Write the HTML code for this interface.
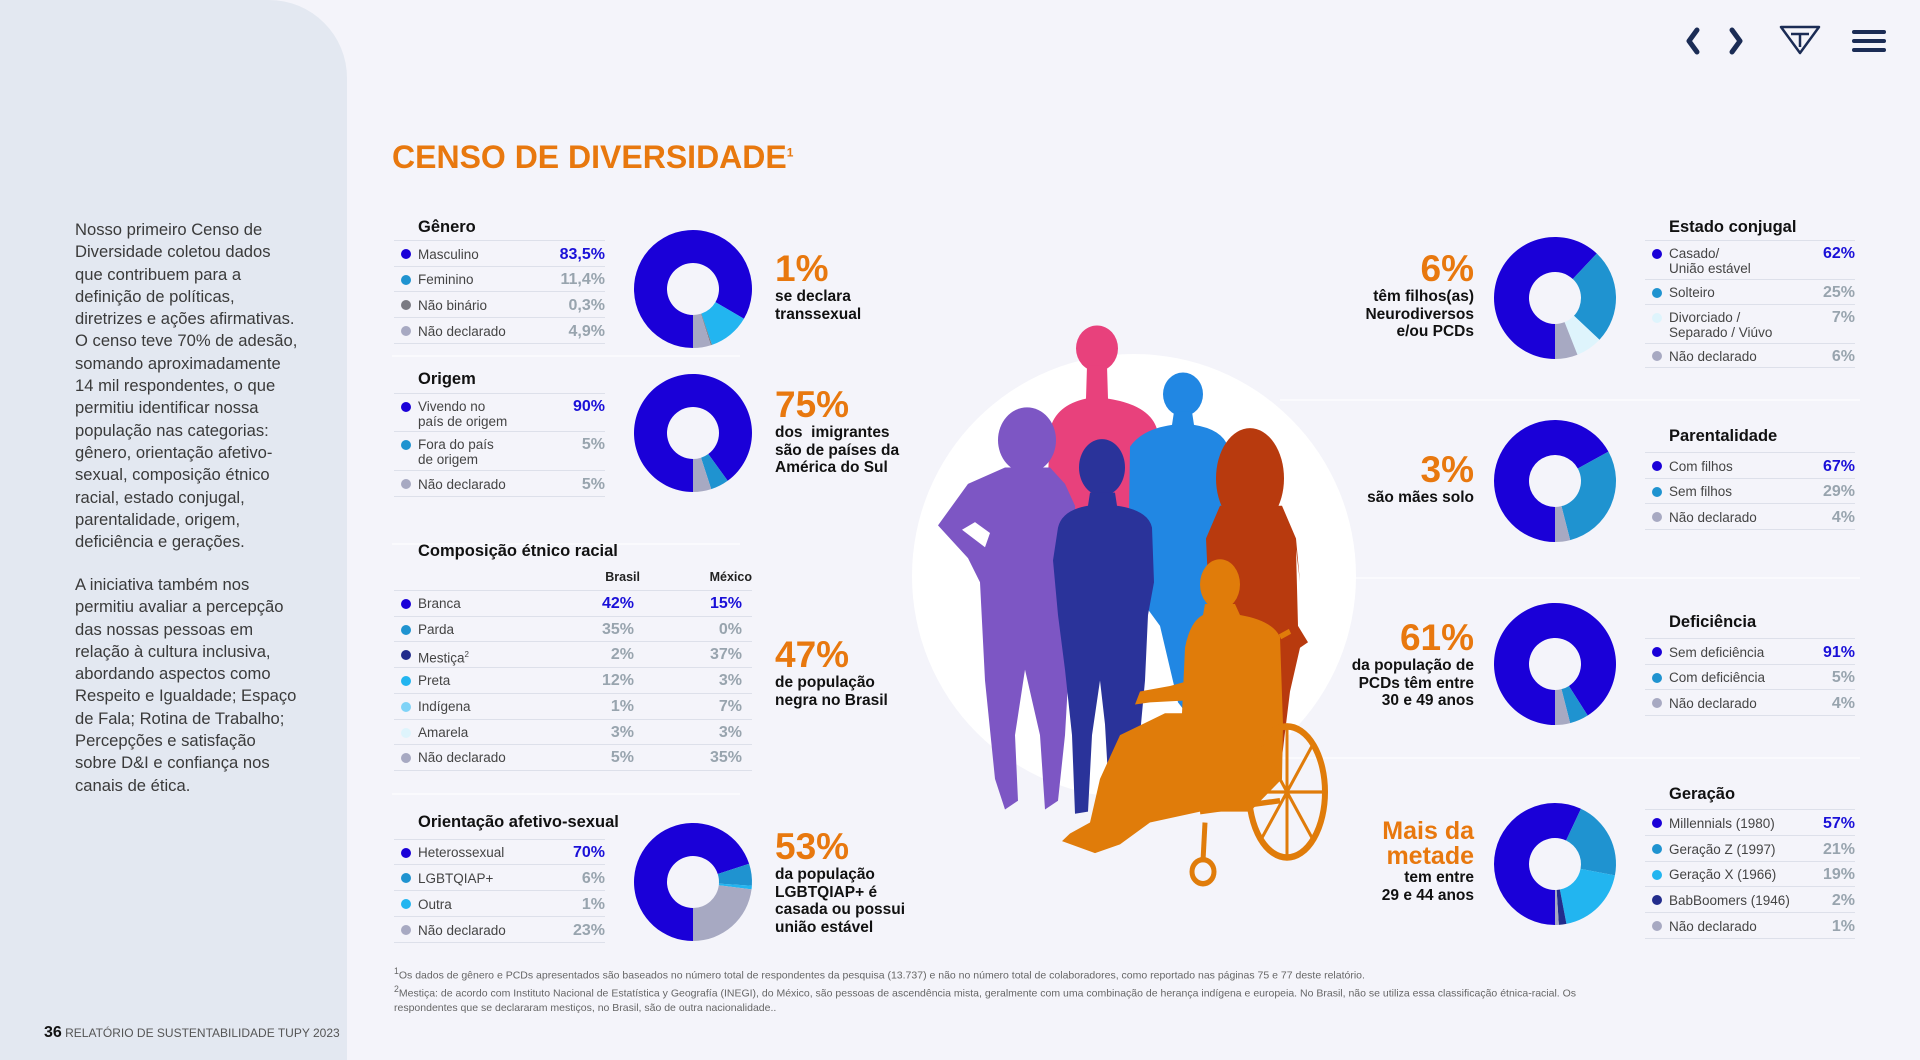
<!DOCTYPE html>
<html><head><meta charset="utf-8">
<style>
*{margin:0;padding:0;box-sizing:border-box}
body{width:1920px;height:1060px;background:#f4f4fa;font-family:"Liberation Sans",sans-serif;position:relative;overflow:hidden;color:#1a1a1a}
.abs{position:absolute}
.side{left:0;top:0;width:347px;height:1060px;background:#e3e8f1;border-top-right-radius:78px}
.para{left:75px;width:270px;font-size:16.6px;line-height:22.3px;color:#3a3a3a;white-space:nowrap}
.ttl{font-weight:bold;font-size:16.5px;color:#111}
.row{position:absolute;border-top:1px solid #dde0ea;display:flex;align-items:center;font-size:13.5px;color:#444}
.row .dot{position:absolute;left:7px;width:10px;height:10px;border-radius:50%}
.row .lab{position:absolute;left:24px;line-height:15px}
.row .val{position:absolute;right:0;font-weight:bold;font-size:16px;color:#98a4ae}
.row .val.first{color:#1a10d8}
.stat{font-weight:bold;color:#111;font-size:15.5px;line-height:17.5px}
.stat b{display:block;color:#e8780e;font-size:37px;line-height:38px}
.r{text-align:right}
.foot{left:394px;font-size:10.5px;color:#666;line-height:13.8px;width:1420px}
</style></head><body>
<div class="abs side"></div>
<div class="abs para" style="top:219px">Nosso primeiro Censo de<br>Diversidade coletou dados<br>que contribuem para a<br>definição de políticas,<br>diretrizes e ações afirmativas.<br>O censo teve 70% de adesão,<br>somando aproximadamente<br>14 mil respondentes, o que<br>permitiu identificar nossa<br>população nas categorias:<br>gênero, orientação afetivo-<br>sexual, composição étnico<br>racial, estado conjugal,<br>parentalidade, origem,<br>deficiência e gerações.</div>
<div class="abs para" style="top:574px">A iniciativa também nos<br>permitiu avaliar a percepção<br>das nossas pessoas em<br>relação à cultura inclusiva,<br>abordando aspectos como<br>Respeito e Igualdade; Espaço<br>de Fala; Rotina de Trabalho;<br>Percepções e satisfação<br>sobre D&amp;I e confiança nos<br>canais de ética.</div>
<div class="abs" style="left:44px;top:1024px;font-size:12px;color:#555"><b style="font-size:16px;color:#111">36</b> RELATÓRIO DE SUSTENTABILIDADE TUPY 2023</div>

<div class="abs" style="left:392px;top:139px;font-size:32px;font-weight:bold;color:#e8780e">CENSO DE DIVERSIDADE<sup style="font-size:12px">1</sup></div>

<svg class="abs" style="left:1670px;top:18px" width="250" height="46">
<polyline points="27,12 19,23 27,34" fill="none" stroke="#1b2c55" stroke-width="5" stroke-linecap="round" stroke-linejoin="round"/>
<polyline points="62,12 70,23 62,34" fill="none" stroke="#1b2c55" stroke-width="5" stroke-linecap="round" stroke-linejoin="round"/>
<g><polygon points="111,9 149,9 130,35" fill="none" stroke="#1b2c55" stroke-width="2.5" stroke-linejoin="round"/><path d="M121,16 H139 M130,16 V29" stroke="#1b2c55" stroke-width="2.5"/></g>
<g stroke="#1b2c55" stroke-width="4" stroke-linecap="round"><line x1="184" y1="14" x2="214" y2="14"/><line x1="184" y1="23" x2="214" y2="23"/><line x1="184" y1="32" x2="214" y2="32"/></g>
</svg>

<svg class="abs" style="left:0;top:0" width="1920" height="1060">
<g stroke="#ffffff" stroke-width="2" opacity="0.6"><line x1="392" y1="356" x2="740" y2="356"/><line x1="392" y1="544" x2="740" y2="544"/><line x1="392" y1="794" x2="740" y2="794"/><line x1="1280" y1="400" x2="1860" y2="400"/><line x1="1280" y1="578" x2="1860" y2="578"/><line x1="1280" y1="758" x2="1860" y2="758"/></g>
</svg>

<svg class="abs" style="left:0;top:0" width="1920" height="1060">
<circle cx="1134" cy="576" r="222" fill="#ffffff"/>
<g transform="translate(0,320) scale(1,1.0925) translate(0,-320)">
<g fill="#e8417c"><circle cx="1097" cy="346" r="21"/><path d="M1087,362 L1107,362 L1108,392 Q1150,398 1157,420 L1162,530 L1045,530 L1050,420 Q1056,398 1086,392 Z"/></g>
<g fill="#2187e3"><circle cx="1183" cy="388" r="20"/><path d="M1174,404 L1192,404 L1194,416 Q1222,420 1228,436 L1232,560 L1225,575 L1215,670 L1195,690 L1178,670 L1160,600 L1128,560 L1130,436 Q1142,420 1172,416 Z"/></g>
<g fill="#7d56c4"><ellipse cx="1027" cy="430" rx="29" ry="30"/><path d="M1005,455 L1050,455 L1065,470 L1075,490 L1080,560 L1070,620 L1065,700 L1058,760 L1045,768 L1040,700 L1025,640 L1015,700 L1018,760 L1005,768 L995,740 L985,650 L980,560 L968,538 L950,520 L938,508 L968,470 Z M975,505 L962,512 L985,528 L990,515 Z" fill-rule="evenodd"/></g>
<g fill="#2a339a"><ellipse cx="1102" cy="455" rx="23" ry="26"/><path d="M1090,478 L1115,478 L1117,490 Q1148,494 1152,510 L1154,560 L1148,590 L1145,650 L1140,700 L1135,760 L1125,772 L1110,770 L1105,690 L1100,650 L1092,700 L1088,770 L1075,772 L1072,700 L1065,640 L1058,590 L1053,540 L1058,510 Q1062,494 1088,490 Z"/></g>
<g fill="#b83a0e"><ellipse cx="1250" cy="465" rx="34" ry="46"/><path d="M1220,490 L1282,490 L1296,520 L1300,560 L1296,530 L1298,600 L1308,615 L1300,620 L1290,660 L1282,720 L1262,720 L1255,620 L1225,620 L1210,600 L1206,520 Z"/></g>
<g fill="#e07c0a"><ellipse cx="1220" cy="562" rx="20" ry="23"/><path d="M1205,580 L1235,580 L1240,590 Q1272,595 1280,610 L1283,690 L1282,740 L1250,770 L1200,770 L1150,780 L1120,800 L1095,808 L1062,797 L1070,790 L1090,780 L1100,740 L1120,700 L1165,680 L1182,680 L1185,620 Q1190,596 1203,590 Z"/>
<path d="M1190,650 L1170,655 L1140,660 L1135,672 L1150,670 L1190,668 Z"/>
<ellipse cx="1287" cy="752" rx="38" ry="60" fill="none" stroke="#e07c0a" stroke-width="6"/>
<g stroke="#e07c0a" stroke-width="3"><line x1="1287" y1="694" x2="1287" y2="810"/><line x1="1252" y1="752" x2="1322" y2="752"/><line x1="1262" y1="710" x2="1312" y2="794"/><line x1="1312" y1="710" x2="1262" y2="794"/><line x1="1200" y1="770" x2="1280" y2="760" stroke-width="5"/><line x1="1205" y1="780" x2="1203" y2="815" stroke-width="5"/><line x1="1280" y1="610" x2="1290" y2="605" stroke-width="5"/></g>
<circle cx="1203" cy="825" r="11" fill="none" stroke="#e07c0a" stroke-width="5"/></g>
</g>
</svg>

<div class="abs stat" style="left:775px;top:250px"><b>1%</b>se declara<br>transsexual</div>
<div class="abs stat" style="left:775px;top:386px"><b>75%</b>dos&nbsp; imigrantes<br>são de países da<br>América do Sul</div>
<div class="abs stat" style="left:775px;top:636px"><b>47%</b>de população<br>negra no Brasil</div>
<div class="abs stat" style="left:775px;top:828px"><b>53%</b>da população<br>LGBTQIAP+ é<br>casada ou possui<br>união estável</div>
<div class="abs stat r" style="right:446px;top:250px"><b>6%</b>têm filhos(as)<br>Neurodiversos<br>e/ou PCDs</div>
<div class="abs stat r" style="right:446px;top:451px"><b>3%</b>são mães solo</div>
<div class="abs stat r" style="right:446px;top:619px"><b>61%</b>da população de<br>PCDs têm entre<br>30 e 49 anos</div>
<div class="abs stat r" style="right:446px;top:819px"><b style="font-size:25px;line-height:25px;font-weight:bold">Mais da<br>metade</b>tem entre<br>29 e 44 anos</div>

<div class="abs foot" style="top:965px"><sup>1</sup>Os dados de gênero e PCDs apresentados são baseados no número total de respondentes da pesquisa (13.737) e não no número total de colaboradores, como reportado nas páginas 75 e 77 deste relatório.<br><sup>2</sup>Mestiça: de acordo com Instituto Nacional de Estatística y Geografía (INEGI), do México, são pessoas de ascendência mista, geralmente com uma combinação de herança indígena e europeia. No Brasil, não se utiliza essa classificação étnica-racial. Os<br>respondentes que se declararam mestiços, no Brasil, são de outra nacionalidade..</div>

<svg id="donuts" class="abs" style="left:0;top:0" width="1920" height="1060"></svg>
<div id="tables"></div>

<script>
const BLUE='#1a00d8',TEAL='#1f93d0',CYAN='#22b5f0',GRAY='#a7a9c2',DGRAY='#7a7a82',NAVY='#222c8c',LCYAN='#7fd3f7',PALE='#def4fc';

const generoLabels=['Masculino','Feminino','Não binário','Não declarado'];
const generoValues=[83.5,11.4,0.3,4.9];
const generoText=['83,5%','11,4%','0,3%','4,9%'];

const origemLabels=['Vivendo no<br>país de origem','Fora do país<br>de origem','Não declarado'];
const origemValues=[90,5,5];
const origemText=['90%','5%','5%'];

const etnicoLabels=['Branca','Parda','Mestiça<sup style="font-size:8px">2</sup>','Preta','Indígena','Amarela','Não declarado'];
const etnicoBrasil=[42,35,2,12,1,3,5];
const etnicoMexico=[15,0,37,3,7,3,35];

const orientLabels=['Heterossexual','LGBTQIAP+','Outra','Não declarado'];
const orientValues=[70,6,1,23];

const estadoLabels=['Casado/<br>União estável','Solteiro','Divorciado /<br>Separado / Viúvo','Não declarado'];
const estadoValues=[62,25,7,6];

const parentLabels=['Com filhos','Sem filhos','Não declarado'];
const parentValues=[67,29,4];

const deficLabels=['Sem deficiência','Com deficiência','Não declarado'];
const deficValues=[91,5,4];

const geracaoLabels=['Millennials (1980)','Geração Z (1997)','Geração X (1966)','BabBoomers (1946)','Não declarado'];
const geracaoValues=[57,21,19,2,1];

const svg=document.getElementById('donuts');
const NS='http://www.w3.org/2000/svg';
function pt(cx,cy,r,a){return [cx+r*Math.sin(a),cy-r*Math.cos(a)];}
function donut(name,cx,cy,R,r0,values,colors){
  const total=values.reduce((a,b)=>a+b,0);
  let a=Math.PI;
  values.forEach((v,i)=>{
    const sweep=v/total*2*Math.PI;
    const a2=a+sweep;
    const large=sweep>Math.PI?1:0;
    const p1=pt(cx,cy,R,a),p2=pt(cx,cy,R,a2),p3=pt(cx,cy,r0,a2),p4=pt(cx,cy,r0,a);
    const p=document.createElementNS(NS,'path');
    p.setAttribute('d',`M${p1} A${R},${R} 0 ${large} 1 ${p2} L${p3} A${r0},${r0} 0 ${large} 0 ${p4} Z`);
    p.setAttribute('fill',colors[i]);
    
    
    svg.appendChild(p);
    a=a2;
  });
}
donut('genero-donut',693,289,59,26,generoValues,[BLUE,CYAN,DGRAY,GRAY]);
donut('origem-donut',693,433,59,26,origemValues,[BLUE,TEAL,GRAY]);
donut('orientacao-donut',693,882,59,26,orientValues,[BLUE,TEAL,CYAN,GRAY]);
donut('estado-donut',1555,298,61,26,estadoValues,[BLUE,TEAL,PALE,GRAY]);
donut('parentalidade-donut',1555,481,61,26,parentValues,[BLUE,TEAL,GRAY]);
donut('deficiencia-donut',1555,664,61,26,deficValues,[BLUE,TEAL,GRAY]);
donut('geracao-donut',1555,864,61,26,geracaoValues,[BLUE,TEAL,CYAN,NAVY,GRAY]);

const host=document.getElementById('tables');
function mk(html,style){const d=document.createElement('div');d.className='abs';d.style.cssText=style;d.innerHTML=html;host.appendChild(d);return d;}
function pct(v){return (Math.round(v*10)/10).toString().replace('.',',')+'%';}
function table(name,x,w,titleTop,lineY,title,labels,texts,colors,heights){
  const t=mk(title,`left:${x+24}px;top:${titleTop}px;`);
  t.className='abs ttl';
  
  
  let y=lineY;
  labels.forEach((l,i)=>{
    const h=heights[i];
    const d=document.createElement('div');
    d.className='row';
    d.style.cssText=`left:${x}px;top:${y}px;width:${w}px;height:${h}px;`;
    const multi=l.indexOf('<br>')>=0;
    const top=multi?5:(h-15)/2;
    d.innerHTML=`<span class="dot" style="background:${colors[i]};top:${multi?8:(h-10)/2}px"></span><span class="lab" style="top:${top}px">${l}</span><span class="val${i==0?' first':''}" style="top:${multi?4:(h-19)/2+1}px">${texts[i]}</span>`;
    
    
    host.appendChild(d);
    y+=h;
  });
  const b=document.createElement('div');
  b.className='abs';
  b.style.cssText=`left:${x}px;top:${y}px;width:${w}px;border-top:1px solid #dde0ea`;
  
  
  host.appendChild(b);
}
table('genero-table',394,211,218,240,'Gênero',generoLabels,generoText,[BLUE,TEAL,DGRAY,GRAY],[26,25,26,26]);
table('origem-table',394,211,370,393,'Origem',origemLabels,origemText,[BLUE,TEAL,GRAY],[38,39,26]);
table('orientacao-table',394,211,813,839,'Orientação afetivo-sexual',orientLabels,orientValues.map(pct),[BLUE,TEAL,CYAN,GRAY],[25,26,26,26]);
table('estado-table',1645,210,218,240,'Estado conjugal',estadoLabels,estadoValues.map(pct),[BLUE,TEAL,PALE,GRAY],[39,25,39,24]);
table('parentalidade-table',1645,210,427,452,'Parentalidade',parentLabels,parentValues.map(pct),[BLUE,TEAL,GRAY],[26,25,26]);
table('deficiencia-table',1645,210,613,638,'Deficiência',deficLabels,deficValues.map(pct),[BLUE,TEAL,GRAY],[26,25,26]);
table('geracao-table',1645,210,785,809,'Geração',geracaoLabels,geracaoValues.map(pct),[BLUE,TEAL,CYAN,NAVY,GRAY],[26,26,25,26,26]);

const et=mk('Composição étnico racial','left:418px;top:542px;');
et.className='abs ttl';


const hb=mk('Brasil','left:560px;top:570px;width:80px;text-align:right;font-size:12.5px;font-weight:bold;color:#222');


const hm=mk('México','left:672px;top:570px;width:80px;text-align:right;font-size:12.5px;font-weight:bold;color:#222');


const etColors=[BLUE,TEAL,NAVY,CYAN,LCYAN,PALE,GRAY];
let ey=590;
etnicoLabels.forEach((l,i)=>{
  const d=document.createElement('div');
  d.className='row';
  d.style.cssText=`left:394px;top:${ey}px;width:358px;height:25.7px;`;
  d.innerHTML=`<span class="dot" style="background:${etColors[i]};top:8px"></span><span class="lab" style="top:5px">${l}</span><span class="val${i==0?' first':''}" style="right:118px;top:4px">${etnicoBrasil[i]}%</span><span class="val${i==0?' first':''}" style="right:10px;top:4px">${etnicoMexico[i]}%</span>`;
  
  
  host.appendChild(d);
  ey+=25.7;
});
const eb=document.createElement('div');
eb.className='abs';
eb.style.cssText=`left:394px;top:${ey}px;width:358px;border-top:1px solid #dde0ea`;


host.appendChild(eb);
</script>
</body></html>
